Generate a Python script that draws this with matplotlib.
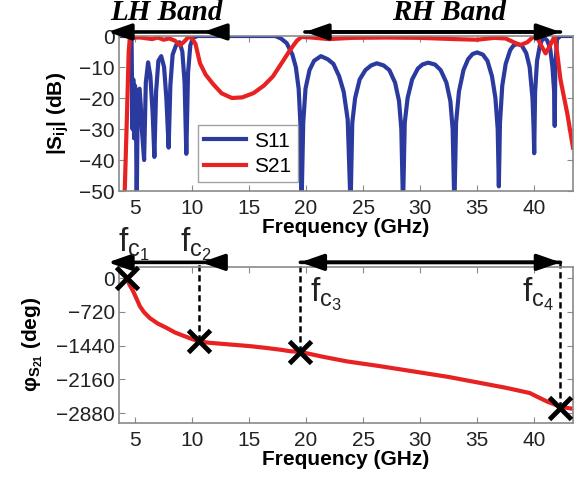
import matplotlib.pyplot as plt

plt.rcParams['font.family'] = ['Liberation Sans', 'DejaVu Sans']
plt.rcParams['mathtext.default'] = 'regular'

# |S11| (GHz, dB)
s11_f = [3.6, 4.5, 4.7, 4.78, 4.85, 4.92, 5.0, 5.08, 5.15, 5.25, 5.4, 5.5, 5.6, 5.8,
         5.95, 6.15, 6.35, 6.55, 6.7, 6.85, 7.05, 7.3, 7.55, 7.75, 7.95, 8.1, 8.3, 8.6,
         8.9, 9.15, 9.35, 9.5, 9.65, 9.85, 10.1, 10.5, 17.3, 17.8, 18.3, 18.8, 19.1,
         19.35, 19.5, 19.6,
         19.75, 19.95, 20.3, 20.7, 21.3, 21.9, 22.4, 22.9, 23.3, 23.65, 23.9,
         24.05, 24.3, 24.7, 25.2, 25.7, 26.2, 26.8, 27.3, 27.8, 28.15, 28.35, 28.5,
         28.65, 28.9, 29.3, 29.8, 30.2, 30.7, 31.3, 31.8, 32.3, 32.65, 32.85, 33.0,
         33.15, 33.4, 33.8, 34.2, 34.6, 35.0, 35.5, 35.9, 36.3, 36.6, 36.8, 36.9,
         37.0, 37.2, 37.5, 37.9, 38.2, 38.5, 38.9, 39.3, 39.6, 39.85, 39.95, 40.0,
         40.08, 40.25, 40.5, 40.7, 40.9, 41.15, 41.4, 41.6, 41.75, 41.8,
         41.85, 42.0, 42.3, 43.4]
s11_db = [0, 0, -1, -30, -14, -33, -16, -22, -55, -18, -17, -22, -30, -40,
          -15, -8.5, -13, -25, -39, -18, -8, -6.5, -10, -20, -36, -16, -6, -3,
          -2, -5, -15, -38, -12, -3, -0.5, 0, 0, -0.8, -2.3, -6, -10,
          -17, -28, -55,
          -28, -17, -11, -8, -6.5, -7.5, -9, -13, -18, -27, -55,
          -28, -20, -14, -11, -9.5, -8.8, -9.5, -11, -15, -21, -30, -55,
          -28, -20, -14, -10.5, -9.2, -8.6, -9.2, -11, -15, -21, -30, -55,
          -28, -18, -11, -7.5, -5.8, -5.3, -6, -8, -13, -20, -30, -48.5,
          -28, -16, -9, -4.5, -3, -2.6, -3, -5.5, -10, -20, -30, -37.8,
          -18, -8, -3, -1.2, -0.6, -1.5, -4, -10, -18, -29,
          -10, -1, 0, 0]

# |S21| (GHz, dB)
s21_f = [3.6, 4.1, 4.3, 4.45, 4.55, 5.5, 6.5, 7.0, 7.5, 8.0, 8.5, 8.95, 9.4, 9.7,
         10.0, 10.3, 10.7, 11.2, 11.85, 12.6, 13.5, 14.4, 15.4, 16.3, 17.1, 17.9,
         18.6, 19.2, 19.6, 20.5, 22, 24, 27, 30, 33, 35, 36.5, 37.5, 38.2, 38.8,
         39.4, 39.9, 40.2, 40.6, 41.0, 41.4, 41.8, 42.0, 42.3, 42.9, 43.4]
s21_db = [-80, -50, -25, -5, -0.5, -0.5, -1.0, -0.5, -1.2, -0.8, -1.5, -3, -1.5, -0.2,
          -0.8, -2.5, -8.8, -12.5, -15.5, -18.5, -20, -19.8, -18.4, -16, -13, -8.5,
          -4.5, -1.5, -0.3, -0.5, -1.0, -0.6, -0.5, -0.6, -1.0, -1.2, -0.6, -0.8, -2.0, -2.9,
          -2.0, -0.3, 0, -3, -5.6, -3, 0, -5, -14, -25, -36]

# phase of S21 (GHz, deg)
ph_f = [4.27, 4.5, 4.85, 5.1, 5.44, 5.8, 6.3, 7.0, 7.8, 8.5, 9.24, 10.0, 10.6, 11.5,
        12.5, 13.6, 15.0, 16.5, 17.8, 18.6, 19.5, 21.5, 23.6, 26.5, 29.4, 32.5, 35.3,
        37.5, 39.6, 40.5, 41.1, 42.3, 43.4]
ph_deg = [0, -130, -285, -420, -605, -730, -853, -970, -1066, -1160, -1230, -1300, -1350,
          -1380, -1400, -1422, -1450, -1490, -1530, -1560, -1575, -1680, -1778, -1880,
          -1991, -2110, -2239, -2340, -2452, -2560, -2631, -2745, -2790]

# cutoff frequencies and their phase
fc = [4.27, 10.6, 19.5, 42.3]
fc_deg = [0, -1350, -1570, -2765]
fc_labels = ['f$_{c_1}$', 'f$_{c_2}$', 'f$_{c_3}$', 'f$_{c_4}$']

blue = '#2b3a9e'
red = '#e82222'
grey = '#8a8a8a'

fig = plt.figure(figsize=(5.82, 4.8), dpi=100)
ax1 = fig.add_axes([0.2045, 0.602, 0.78, 0.323])
ax2 = fig.add_axes([0.2045, 0.119, 0.78, 0.325])

for ax in (ax1, ax2):
    ax.set_xlim(3.6, 43.4)
    ax.set_xticks([5, 10, 15, 20, 25, 30, 35, 40])
    for s in ax.spines.values():
        s.set_color(grey)
        s.set_linewidth(1.2)
    ax.tick_params(direction='in', top=True, right=True, length=4, color=grey,
                   labelsize=15, labelcolor='#222222')
    ax.tick_params(axis='x', pad=6)
    ax.tick_params(axis='y', pad=3)
    ax.set_xlabel('Frequency (GHz)', fontsize=15, fontweight='bold', labelpad=0)

# top panel
ax1.plot(s11_f, s11_db, color=blue, lw=3.0, label='S11')
ax1.plot(s21_f, s21_db, color=red, lw=3.0, label='S21')
ax1.set_ylim(-50, 0)
ax1.set_yticks([-50, -40, -30, -20, -10, 0])
ax1.set_ylabel('|S$_{ij}$| (dB)', fontsize=15, fontweight='bold', labelpad=6)
leg = ax1.legend(loc='lower left', bbox_to_anchor=(0.174, 0.058), borderaxespad=0,
                 fontsize=15, fancybox=False, handlelength=2.0, handletextpad=0.4,
                 borderpad=0.3, labelspacing=0.3)
leg.get_frame().set_edgecolor(grey)
leg.get_frame().set_linewidth(1.0)

tr1 = ax1.get_xaxis_transform()
ar = dict(arrowstyle='-|>,head_length=1.0,head_width=0.35', color='k', lw=2.6,
          mutation_scale=14, shrinkA=0, shrinkB=0)
ax1.annotate('', xy=(2.63, 1.026), xytext=(12.6, 1.026), xycoords=tr1, arrowprops=ar,
             annotation_clip=False)
ax1.annotate('', xy=(10.96, 1.026), xytext=(12.6, 1.026), xycoords=tr1, arrowprops=ar,
             annotation_clip=False)
ax1.annotate('', xy=(19.9, 1.026), xytext=(42.3, 1.026), xycoords=tr1, arrowprops=ar,
             annotation_clip=False)
ax1.annotate('', xy=(42.3, 1.026), xytext=(19.9, 1.026), xycoords=tr1, arrowprops=ar,
             annotation_clip=False)
ax1.text(7.8, 1.15, 'LH Band', transform=tr1, ha='center', va='center', fontsize=21,
         family='Liberation Serif', fontweight='bold', style='italic')
ax1.text(32.5, 1.15, 'RH Band', transform=tr1, ha='center', va='center', fontsize=21,
         family='Liberation Serif', fontweight='bold', style='italic')

# bottom panel
ax2.plot(ph_f, ph_deg, color=red, lw=3.0)
ax2.set_ylim(-3090, 240)
ax2.set_yticks([-2880, -2160, -1440, -720, 0])
ax2.set_ylabel('φ$_{S_{21}}$ (deg)', fontsize=15, fontweight='bold', labelpad=8)

lo, hi = ax2.get_ylim()
arrow_y = hi + 0.029 * (hi - lo)
for f, d in zip(fc[1:], fc_deg[1:]):
    ax2.plot([f, f], [d, arrow_y], color='k', lw=1.8, ls=(0, (2.5, 1.5)), clip_on=False)
ax2.plot(fc, fc_deg, 'x', color='k', ms=16, mew=3.5, clip_on=False, zorder=5)

tr2 = ax2.get_xaxis_transform()
ax2.annotate('', xy=(2.63, 1.029), xytext=(12.4, 1.029), xycoords=tr2, arrowprops=ar,
             annotation_clip=False)
ax2.annotate('', xy=(10.8, 1.029), xytext=(12.4, 1.029), xycoords=tr2, arrowprops=ar,
             annotation_clip=False)
ax2.annotate('', xy=(19.5, 1.029), xytext=(42.3, 1.029), xycoords=tr2, arrowprops=ar,
             annotation_clip=False)
ax2.annotate('', xy=(42.3, 1.029), xytext=(19.5, 1.029), xycoords=tr2, arrowprops=ar,
             annotation_clip=False)

lab_x = [3.5, 8.95, 20.35, 38.95]
lab_y = [1.096, 1.096, 0.776, 0.776]
for x, y, t in zip(lab_x, lab_y, fc_labels):
    ax2.text(x, y, t, transform=tr2, fontsize=24, ha='left', va='baseline', color='#222222')

fig.savefig('out.png', dpi=100)
